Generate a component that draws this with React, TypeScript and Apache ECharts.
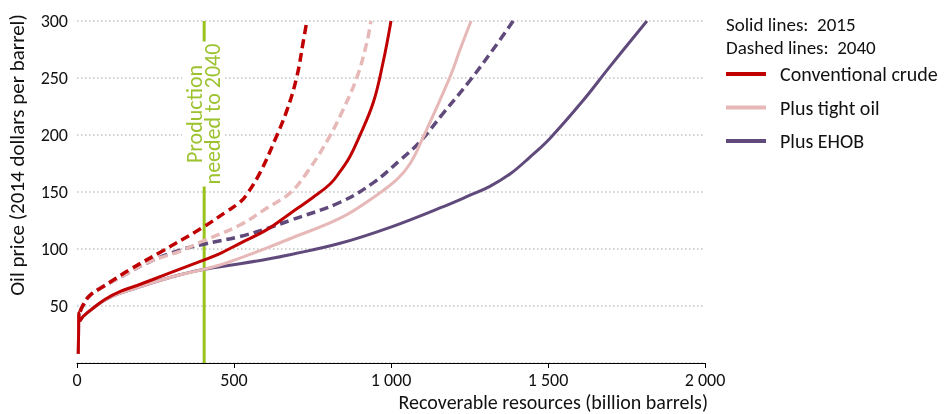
import React, { useEffect, useRef } from 'react';
import * as echarts from 'echarts';

// ---- data ----
const legendNames = ['Conventional crude', 'Plus tight oil', 'Plus EHOB'];
const xTickValues = [0, 500, 1000, 1500, 2000];
const yTickValues = [50, 100, 150, 200, 250, 300];
const productionNeeded2040 = 405;

const conventional2015: number[][] = [
  [4, 8], [5, 25], [6, 44], [9, 37], [20, 41], [51, 48], [90, 56], [140, 63], [191, 68],
  [296, 79], [401, 90], [455, 96], [519, 105], [605, 117], [678, 131], [750, 145],
  [806, 157], [838, 168], [869, 181], [895, 196], [943, 228], [975, 264], [1000, 300],
];
const tightOil2015: number[][] = [
  [4, 8], [5, 25], [6, 44], [9, 37], [20, 41], [51, 48], [100, 57], [191, 66], [296, 75],
  [401, 82], [455, 86], [519, 92], [605, 101], [678, 109], [838, 127], [943, 145],
  [1019, 161], [1061, 175], [1099, 196], [1188, 251], [1220, 275], [1255, 300],
];
const ehob2015: number[][] = [
  [4, 8], [5, 25], [6, 44], [9, 37], [20, 41], [51, 48], [100, 57], [191, 66], [296, 75],
  [401, 82], [519, 87], [583, 90], [678, 95], [838, 105], [997, 119], [1156, 136],
  [1250, 147], [1315, 155], [1380, 166], [1440, 180], [1506, 197], [1611, 230], [1697, 260],
  [1815, 300],
];
const conventional2040: number[][] = [
  [10, 45], [16, 49], [40, 59], [83, 67], [169, 82], [264, 97], [401, 119], [477, 133],
  [519, 141], [541, 148], [583, 167], [631, 196], [669, 222], [700, 251], [720, 281], [732, 300],
];
const tightOil2040: number[][] = [
  [10, 45], [16, 49], [40, 59], [83, 67], [150, 77], [232, 89], [328, 98], [401, 107],
  [519, 121], [605, 136], [678, 149], [732, 167], [799, 196], [847, 222], [892, 251],
  [923, 281], [936, 300],
];
const ehob2040: number[][] = [
  [10, 45], [16, 49], [40, 59], [83, 67], [150, 77], [232, 89], [328, 99], [401, 104],
  [519, 111], [605, 118], [678, 125], [838, 141], [943, 158], [1029, 178], [1092, 194],
  [1166, 219], [1252, 248], [1325, 275], [1389, 300],
];

const FONT = 'Carlito, Lato';
const RED = '#C00000';
const PINK = '#E6B9B8';
const PURPLE = '#604A7B';
const GREEN = '#99C31C';
const NBSP = '\u00A0';

function fmtThousands(v: number) {
  return String(v).replace(/\B(?=(\d{3})+(?!\d))/g, NBSP);
}

export default function App() {
  const ref = useRef<HTMLDivElement>(null);
  useEffect(() => {
    if (!ref.current) return;
    const chart = echarts.init(ref.current, null, { renderer: 'svg' });
    const curve = (name: string, data: number[][], color: string, dashed: boolean, z: number) => ({
      name,
      type: 'line',
      data,
      symbol: 'none',
      smooth: 0.4,
      z,
      silent: true,
      lineStyle: {
        color,
        width: dashed ? 3.5 : 3,
        type: dashed ? [9, 5] : 'solid',
        cap: 'butt',
      },
      itemStyle: { color },
    });
    const option: any = {
      animation: false,
      textStyle: { fontFamily: FONT },
      grid: { left: 77, right: 243, top: 21, bottom: 51, containLabel: false },
      xAxis: {
        type: 'value',
        min: 0,
        max: 2000,
        interval: 500,
        axisLine: { show: true, lineStyle: { color: '#000', width: 1 } },
        axisTick: { show: true, length: 5, lineStyle: { color: '#000' } },
        axisLabel: {
          color: '#111',
          fontSize: 18,
          fontFamily: FONT,
          margin: 8,
          formatter: (v: number) => (xTickValues.includes(v) ? fmtThousands(v) : ''),
        },
        splitLine: { show: false },
      },
      yAxis: {
        type: 'value',
        min: 0,
        max: 300,
        interval: 50,
        axisLine: { show: false },
        axisTick: { show: false },
        axisLabel: {
          color: '#111',
          fontSize: 18,
          fontFamily: FONT,
          margin: 9,
          formatter: (v: number) => (yTickValues.includes(v) ? String(v) : ''),
        },
        splitLine: { show: true, lineStyle: { color: '#c4c4c4', width: 1.5, type: [1.5, 2.5] } },
      },
      legend: {
        data: legendNames,
        orient: 'vertical',
        left: 721,
        top: 59,
        icon: 'rect',
        itemWidth: 40,
        itemHeight: 4,
        itemGap: 13.5,
        selectedMode: false,
        textStyle: { fontSize: 20, fontFamily: FONT, color: '#111', lineHeight: 20, padding: [0, 0, 0, 9] },
      },
      series: [
        {
          name: 'Production needed to 2040',
          type: 'line',
          data: [[productionNeeded2040, 0], [productionNeeded2040, 300]],
          symbol: 'none',
          z: 1,
          silent: true,
          lineStyle: { color: GREEN, width: 3 },
        },
        curve(legendNames[2], ehob2015, PURPLE, false, 2),
        curve(legendNames[2], ehob2040, PURPLE, true, 2),
        curve(legendNames[1], tightOil2015, PINK, false, 3),
        curve(legendNames[1], tightOil2040, PINK, true, 3),
        curve(legendNames[0], conventional2015, RED, false, 4),
        curve(legendNames[0], conventional2040, RED, true, 4),
      ],
    };
    chart.setOption(option);
    const [gx] = chart.convertToPixel({ xAxisIndex: 0, yAxisIndex: 0 }, [productionNeeded2040, 0]) as number[];
    chart.setOption({
      graphic: [
        {
          type: 'text',
          x: gx - 1,
          y: 114,
          rotation: Math.PI / 2,
          z: 100,
          style: {
            text: 'Production\nneeded to 2040',
            fill: '#9CC22E',
            font: `22px ${FONT}`,
            align: 'center',
            verticalAlign: 'middle',
            lineHeight: 18,
            backgroundColor: '#fff',
            padding: [3, 2],
          },
        },
        {
          type: 'text',
          x: 726,
          y: 24,
          style: { text: `Solid lines:${NBSP}${NBSP}2015`, fill: '#111', font: `19px ${FONT}`, verticalAlign: 'middle' },
        },
        {
          type: 'text',
          x: 726,
          y: 47.5,
          style: { text: `Dashed lines:${NBSP}${NBSP}2040`, fill: '#111', font: `19px ${FONT}`, verticalAlign: 'middle' },
        },
        {
          type: 'text',
          x: 17,
          y: 155,
          rotation: Math.PI / 2,
          style: {
            text: 'Oil price (2014 dollars per barrel)',
            fill: '#111',
            font: `21px ${FONT}`,
            align: 'center',
            verticalAlign: 'middle',
          },
        },
        {
          type: 'text',
          x: 708,
          y: 402,
          style: {
            text: 'Recoverable resources (billion barrels)',
            fill: '#111',
            font: `20px ${FONT}`,
            align: 'right',
            verticalAlign: 'middle',
          },
        },
      ],
    });
    return () => chart.dispose();
  }, []);
  return <div ref={ref} style={{ position: 'fixed', left: 0, top: 0, width: 948, height: 414 }} />;
}
